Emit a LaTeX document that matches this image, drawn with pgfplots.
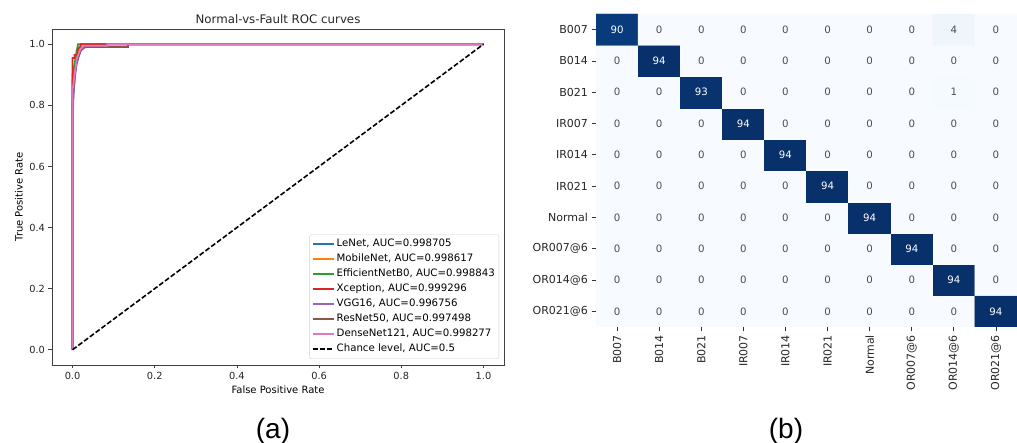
\documentclass[border=0pt]{standalone}
\usepackage{pgfplots}
\pgfplotsset{compat=1.18}
\usepackage{pgfplotstable}
\usepackage{fontspec}
\setmainfont{DejaVu Sans}
\newfontfamily\capfont{Liberation Sans}

\definecolor{cBlue}{RGB}{31,119,180}
\definecolor{cOrange}{RGB}{255,127,14}
\definecolor{cGreen}{RGB}{44,160,44}
\definecolor{cRed}{RGB}{214,39,40}
\definecolor{cPurple}{RGB}{148,103,189}
\definecolor{cBrown}{RGB}{140,86,75}
\definecolor{cPink}{RGB}{227,119,194}
\definecolor{txt}{RGB}{38,38,38}

\newcommand{\tickfont}{\fontsize{9.8}{11}\selectfont}
\newcommand{\labfont}{\fontsize{9.8}{11}\selectfont}
\newcommand{\legfont}{\fontsize{10.2}{11}\selectfont}
\newcommand{\hmfont}{\fontsize{11}{13}\selectfont}
\newcommand{\cellfont}{\fontsize{10.2}{12}\selectfont}

% confusion matrix: x = predicted column, y = 9 - true row
\pgfplotstableread{
x y C
0 0 0
1 0 0
2 0 0
3 0 0
4 0 0
5 0 0
6 0 0
7 0 0
8 0 0
9 0 94
0 1 0
1 1 0
2 1 0
3 1 0
4 1 0
5 1 0
6 1 0
7 1 0
8 1 94
9 1 0
0 2 0
1 2 0
2 2 0
3 2 0
4 2 0
5 2 0
6 2 0
7 2 94
8 2 0
9 2 0
0 3 0
1 3 0
2 3 0
3 3 0
4 3 0
5 3 0
6 3 94
7 3 0
8 3 0
9 3 0
0 4 0
1 4 0
2 4 0
3 4 0
4 4 0
5 4 94
6 4 0
7 4 0
8 4 0
9 4 0
0 5 0
1 5 0
2 5 0
3 5 0
4 5 94
5 5 0
6 5 0
7 5 0
8 5 0
9 5 0
0 6 0
1 6 0
2 6 0
3 6 94
4 6 0
5 6 0
6 6 0
7 6 0
8 6 0
9 6 0
0 7 0
1 7 0
2 7 93
3 7 0
4 7 0
5 7 0
6 7 0
7 7 0
8 7 1
9 7 0
0 8 0
1 8 94
2 8 0
3 8 0
4 8 0
5 8 0
6 8 0
7 8 0
8 8 0
9 8 0
0 9 90
1 9 0
2 9 0
3 9 0
4 9 0
5 9 0
6 9 0
7 9 0
8 9 4
9 9 0
}\cmtable

\begin{document}
\begin{tikzpicture}
\path[use as bounding box] (0pt,0pt) rectangle (1017pt,443pt);

% ---------------- (a) ROC curves ----------------
\begin{axis}[
  at={(52pt,78pt)}, anchor=south west,
  scale only axis, width=452pt, height=336pt,
  xmin=-0.05, xmax=1.05, ymin=-0.05, ymax=1.05,
  xtick={0,0.2,0.4,0.6,0.8,1.0},
  ytick={0,0.2,0.4,0.6,0.8,1.0},
  xtick pos=bottom, ytick pos=left,
  tick align=outside, major tick length=3.5pt,
  tick style={black!75, line width=0.8pt},
  axis line style={black!75, line width=0.8pt},
  tick label style={font=\tickfont, text=txt},
  /pgf/number format/.cd, fixed, fixed zerofill, precision=1, assume math mode=true,
  /pgfplots/.cd,
  xlabel={False Positive Rate}, ylabel={True Positive Rate},
  label style={font=\labfont, text=txt},
  every axis x label/.style={at={(axis description cs:0.5,0)}, anchor=center, yshift=-25pt},
  every axis y label/.style={at={(axis description cs:-0.073,0.5)}, anchor=center, rotate=90},
  legend style={at={(0.989,0.018)}, anchor=south east, draw=black!18, rounded corners=2pt,
    fill=white, font=\legfont, inner xsep=2pt, inner ysep=2pt, row sep=0pt,
    nodes={text height=7.4pt, text depth=2.4pt, inner ysep=2.6pt}},
  legend cell align=left,
  legend image code/.code={\draw[#1, line width=2pt] (0pt,0pt) -- (21pt,0pt);},
]
\addplot[cBlue, line width=1.7pt] coordinates {(0,0) (0,0.80) (0.003,0.85) (0.006,0.90) (0.009,0.93) (0.012,0.945) (0.015,0.96) (0.02,0.98) (0.025,0.99) (0.03,0.995) (0.066,0.995) (0.066,1.0) (1,1)};
\addlegendentry{LeNet, AUC=0.998705}
\addplot[cOrange, line width=1.7pt] coordinates {(0,0) (0,0.88) (0.005,0.92) (0.01,0.96) (0.015,0.98) (0.02,1.0) (1,1)};
\addlegendentry{MobileNet, AUC=0.998617}
\addplot[cGreen, line width=1.7pt] coordinates {(0,0) (0,0.90) (0.004,0.93) (0.008,0.96) (0.01,0.98) (0.012,0.99) (0.013,1.0) (1,1)};
\addlegendentry{EfficientNetB0, AUC=0.998843}
\addplot[cRed, line width=1.7pt] coordinates {(0,0) (0,0.955) (0.005,0.955) (0.005,0.965) (0.012,0.965) (0.012,0.98) (0.016,0.99) (0.02,0.99) (0.02,1.0) (1,1)};
\addlegendentry{Xception, AUC=0.999296}
\addplot[cPurple, line width=1.7pt] coordinates {(0,0) (0,0.75) (0.003,0.85) (0.008,0.92) (0.012,0.95) (0.02,0.98) (0.03,0.99) (0.07,0.995) (0.083,0.995) (0.083,1.0) (1,1)};
\addlegendentry{VGG16, AUC=0.996756}
\addplot[cBrown, line width=1.7pt] coordinates {(0,0) (0,0.82) (0.004,0.88) (0.008,0.93) (0.014,0.96) (0.02,0.98) (0.03,0.991) (0.135,0.991) (0.135,1.0) (1,1)};
\addlegendentry{ResNet50, AUC=0.997498}
\addplot[cPink, line width=1.7pt] coordinates {(0,0) (0,0.85) (0.005,0.90) (0.01,0.95) (0.015,0.97) (0.02,0.985) (0.028,0.995) (0.085,0.995) (0.085,1.0) (1,1)};
\addlegendentry{DenseNet121, AUC=0.998277}
\addplot[black, line width=1.6pt, dash pattern=on 5pt off 2.2pt] coordinates {(0,0) (1,1)};
\addlegendentry{Chance level, AUC=0.5}
\end{axis}
\node[font=\fontsize{11.8}{13}\selectfont, text=txt] at (278pt,424pt) {Normal-vs-Fault ROC curves};
\node[font=\capfont\fontsize{28}{30}\selectfont, anchor=base] at (273pt,4pt) {(a)};

% ---------------- (b) confusion matrix ----------------
\begin{axis}[
  at={(596pt,116pt)}, anchor=south west,
  scale only axis, width=421pt, height=313pt,
  xmin=-0.5, xmax=9.5, ymin=-0.5, ymax=9.5,
  axis line style={draw=none},
  xtick={0,...,9}, ytick={0,...,9},
  xticklabels={B007,B014,B021,IR007,IR014,IR021,Normal,OR007@6,OR014@6,OR021@6},
  yticklabels={OR021@6,OR014@6,OR007@6,Normal,IR021,IR014,IR007,B021,B014,B007},
  xtick pos=bottom, ytick pos=left,
  tick align=outside, major tick length=4.5pt,
  tick style={black!80, line width=0.8pt},
  tick label style={font=\hmfont, text=txt},
  x tick label style={rotate=90, anchor=east},
  colormap={blues}{rgb255=(247,251,255) rgb255=(222,235,247) rgb255=(198,219,239) rgb255=(158,202,225) rgb255=(107,174,214) rgb255=(66,146,198) rgb255=(33,113,181) rgb255=(8,81,156) rgb255=(8,48,107)},
  point meta min=0, point meta max=94,
]
\addplot[matrix plot*, mesh/cols=10, point meta=explicit] table[x=x, y=y, meta=C] {\cmtable};
\addplot[draw=none, mark=none, point meta=explicit symbolic,
  restrict expr to domain={\thisrow{C}}{0:47},
  nodes near coords, nodes near coords align=center,
  every node near coord/.append style={font=\cellfont, text=black!70}]
  table[x=x, y=y, meta=C] {\cmtable};
\addplot[draw=none, mark=none, point meta=explicit symbolic,
  restrict expr to domain={\thisrow{C}}{47:100},
  nodes near coords, nodes near coords align=center,
  every node near coord/.append style={font=\cellfont, text=white}]
  table[x=x, y=y, meta=C] {\cmtable};
\end{axis}
\node[font=\capfont\fontsize{28}{30}\selectfont, anchor=base] at (786pt,4pt) {(b)};
\end{tikzpicture}
\end{document}
